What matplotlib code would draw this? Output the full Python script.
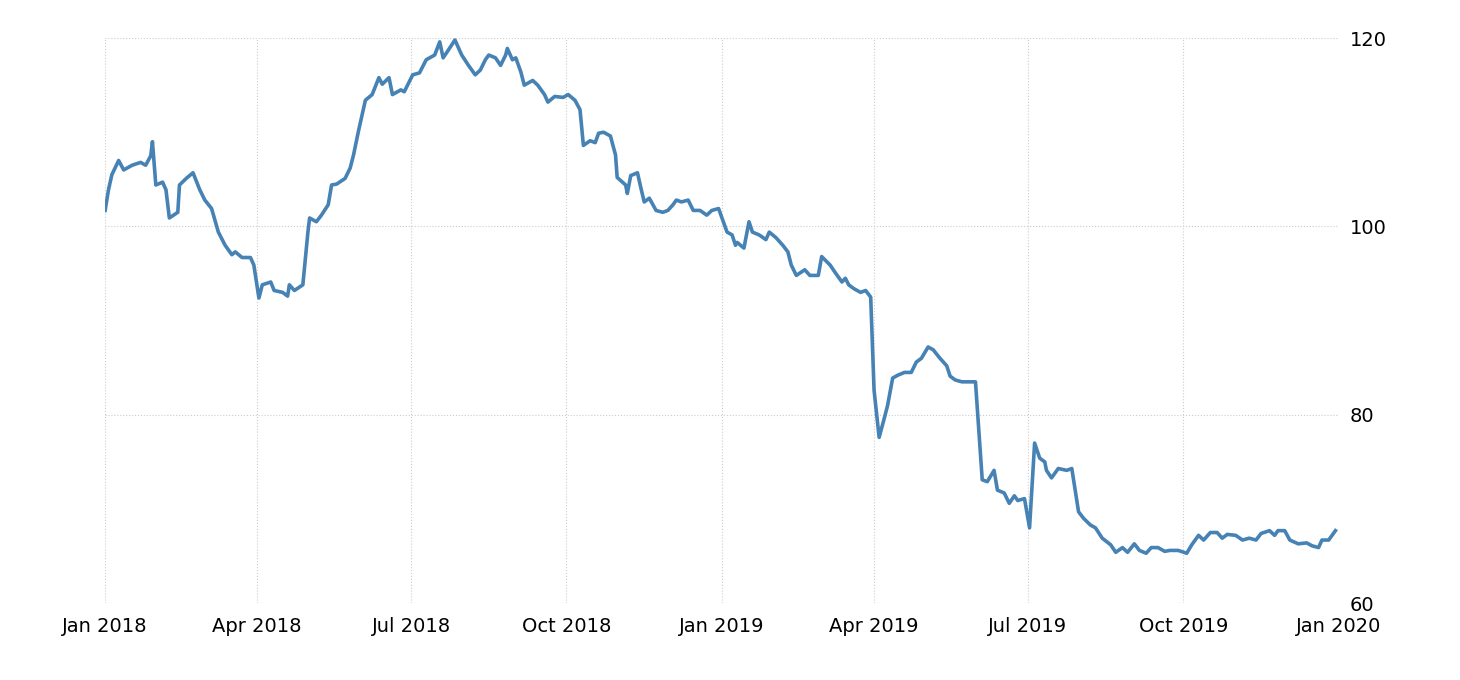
import matplotlib
matplotlib.use('Agg')
import matplotlib.pyplot as plt
import matplotlib.dates as mdates
import numpy as np
import pandas as pd

# days since 2018-01-01 and values
days = [0, 2, 4, 8, 11, 16, 21, 24, 27, 28, 30, 34, 36, 38, 43, 44, 48, 52, 56, 59,
        63, 67, 71, 75, 77, 81, 86, 88, 91, 93, 98, 100, 105, 108, 109, 112, 117, 120, 121, 125,
        128, 132, 134, 137, 142, 145, 147, 150, 154, 158, 162, 164, 168, 170, 175, 177, 182, 186, 190, 195,
        198, 200, 203, 207, 211, 215, 219, 222, 225, 227, 231, 234, 237, 238, 241, 243, 246, 248, 253, 256,
        260, 262, 266, 271, 274, 278, 281, 283, 287, 290, 292, 295, 299, 302, 303, 308, 309, 311, 315, 317,
        319, 322, 326, 330, 333, 336, 338, 341, 345, 348, 352, 356, 359, 363, 365, 368, 371, 373, 374, 378,
        381, 383, 387, 391, 393, 397, 401, 404, 406, 409, 414, 417, 422, 424, 429, 432, 436, 438, 440, 443,
        447, 450, 453, 455, 458, 461, 463, 466, 469, 473, 477, 480, 483, 487, 490, 494, 498, 500, 503, 507,
        511, 515, 519, 522, 526, 528, 532, 535, 538, 540, 544, 547, 550, 553, 556, 557, 560, 564, 569, 572,
        574, 576, 579, 583, 586, 590, 595, 598, 602, 605, 609, 612, 616, 619, 623, 627, 630, 635, 640, 643,
        647, 650, 654, 658, 661, 664, 669, 673, 677, 681, 684, 689, 692, 694, 698, 701, 706, 711, 714, 718,
        720, 724, 728]
values = [101.7, 103.9, 105.5, 107.0, 106.0, 106.5, 106.8, 106.5, 107.5, 109.0, 104.4, 104.7, 103.9, 100.9, 101.5, 104.4, 105.1, 105.7, 103.9, 102.8,
          101.9, 99.4, 98.0, 97.0, 97.3, 96.7, 96.7, 95.9, 92.4, 93.8, 94.1, 93.2, 93.0, 92.6, 93.8, 93.2, 93.8, 99.4, 100.9, 100.5,
          101.2, 102.3, 104.4, 104.5, 105.1, 106.2, 107.6, 110.2, 113.4, 114.0, 115.8, 115.1, 115.8, 114.0, 114.5, 114.3, 116.1, 116.3, 117.7, 118.2,
          119.6, 117.9, 118.7, 119.8, 118.2, 117.1, 116.1, 116.6, 117.7, 118.2, 117.9, 117.1, 118.2, 118.9, 117.7, 117.9, 116.4, 115.0, 115.5, 115.0,
          114.0, 113.2, 113.8, 113.7, 114.0, 113.4, 112.4, 108.6, 109.1, 108.9, 109.9, 110.0, 109.6, 107.6, 105.2, 104.4, 103.5, 105.4, 105.7, 104.1,
          102.6, 103.0, 101.7, 101.5, 101.7, 102.3, 102.8, 102.6, 102.8, 101.7, 101.7, 101.2, 101.7, 101.9, 100.9, 99.4, 99.1, 98.0, 98.3, 97.7,
          100.5, 99.4, 99.1, 98.6, 99.4, 98.8, 98.0, 97.3, 95.9, 94.8, 95.4, 94.8, 94.8, 96.8, 95.9, 95.1, 94.1, 94.5, 93.8, 93.4,
          93.0, 93.2, 92.5, 82.6, 77.6, 79.6, 81.0, 83.9, 84.2, 84.5, 84.5, 85.6, 86.0, 87.2, 86.9, 86.0, 85.2, 84.1, 83.7, 83.5,
          83.5, 83.5, 73.1, 72.9, 74.1, 72.0, 71.7, 70.6, 71.4, 70.9, 71.1, 68.0, 77.0, 75.4, 75.0, 74.1, 73.3, 74.3, 74.1, 74.3,
          72.0, 69.7, 69.0, 68.3, 68.0, 66.9, 66.2, 65.4, 65.9, 65.4, 66.3, 65.6, 65.3, 65.9, 65.9, 65.5, 65.6, 65.6, 65.3, 66.2,
          67.2, 66.7, 67.5, 67.5, 66.9, 67.3, 67.2, 66.7, 66.9, 66.7, 67.4, 67.7, 67.2, 67.7, 67.7, 66.7, 66.3, 66.4, 66.1, 65.9,
          66.7, 66.7, 67.7]

dates = pd.Timestamp('2018-01-01') + pd.to_timedelta(days, unit='D')
tick_dates = pd.to_datetime(['2018-01-01', '2018-04-01', '2018-07-01', '2018-10-01', '2019-01-01',
                             '2019-04-01', '2019-07-01', '2019-10-01', '2020-01-01'])
tick_labels = ['Jan 2018', 'Apr 2018', 'Jul 2018', 'Oct 2018', 'Jan 2019',
               'Apr 2019', 'Jul 2019', 'Oct 2019', 'Jan 2020']

fig = plt.figure(figsize=(14.6, 6.8), dpi=100)
ax = fig.add_axes([0.072, 0.113, 0.845, 0.831])
ax.plot(dates, values, color='#4682B4', lw=2.6, solid_joinstyle='round')

ax.set_xlim(tick_dates[0], tick_dates[-1])
ax.set_ylim(60, 120)
ax.set_xticks(tick_dates)
ax.set_xticklabels(tick_labels)
ax.set_yticks([60, 80, 100, 120])
ax.yaxis.tick_right()
ax.tick_params(axis='both', length=0, labelsize=14, pad=10)
ax.tick_params(axis='y', pad=8)
for s in ax.spines.values():
    s.set_visible(False)
ax.grid(True, color='#cccccc', ls=':', lw=0.8)
ax.set_axisbelow(True)

fig.savefig('out.png', dpi=100)
